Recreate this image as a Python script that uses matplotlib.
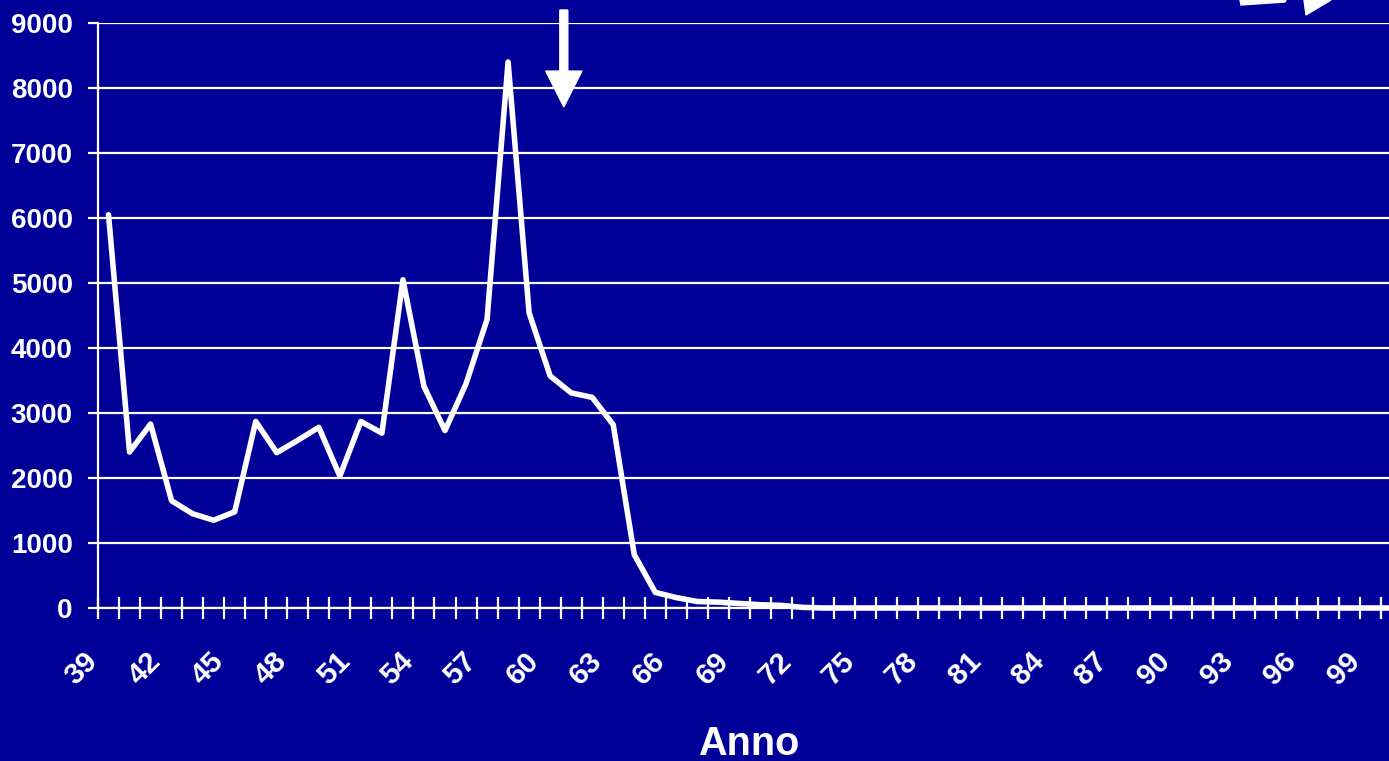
import numpy as np
import matplotlib
matplotlib.use("Agg")
import matplotlib.pyplot as plt
from matplotlib.patches import Polygon
from matplotlib.transforms import ScaledTranslation

plt.rcParams['font.family'] = ['Liberation Sans', 'DejaVu Sans']
plt.rcParams['font.weight'] = 'bold'

# anni 1939 - 2001
anni = list(range(39, 102))
valori = [6050, 2400, 2830, 1650, 1450, 1350, 1480, 2870, 2390, 2580,
          2780, 2030, 2870, 2690, 5050, 3410, 2730, 3450, 4440, 8400,
          4540, 3570, 3310, 3240, 2820, 820, 240, 160, 100, 90,
          70, 50, 40, 10] + [0] * 29
etichette = ['%02d' % (a % 100) for a in anni]

blu = '#000099'
bianco = 'white'

fig = plt.figure(figsize=(13.89, 7.61), dpi=100, facecolor=blu)
# l'asse continua oltre il bordo destro della figura
ax = fig.add_axes([98 / 1389, 153 / 761, 63 * 21.03 / 1389, 585 / 761])
ax.set_facecolor(blu)

x = np.arange(len(anni))
ax.plot(x, valori, color=bianco, lw=4, solid_joinstyle='round',
        solid_capstyle='round', zorder=3, clip_on=False)

ax.set_xlim(-0.5, len(anni) - 0.5)
ax.set_ylim(0, 9000)
ax.set_yticks(np.arange(0, 9001, 1000))
ax.grid(axis='y', color=bianco, lw=1.6)
ax.set_axisbelow(True)

for s in ['top', 'right']:
    ax.spines[s].set_visible(False)
for s in ['left', 'bottom']:
    ax.spines[s].set_color(bianco)
    ax.spines[s].set_linewidth(1.6)

ax.tick_params(axis='y', colors=bianco, length=7.2, width=1.6, pad=11,
               labelsize=20)
for t in ax.get_yticklabels():
    t.set_fontweight('bold')

# tacche ai confini delle categorie, etichette ogni 3 anni
ax.set_xticks(np.arange(-0.5, len(anni), 1), minor=True)
ax.set_xticks(x[::3])
ax.set_xticklabels(etichette[::3], rotation=45, ha='right', va='center',
                   rotation_mode='anchor', fontsize=21.5, fontweight='bold',
                   color=bianco)
ax.tick_params(axis='x', which='major', length=0, pad=35)
ax.tick_params(axis='x', which='minor', direction='inout', length=15.8,
               width=1.6, color=bianco)
sposta = ScaledTranslation(-0.15, 0, fig.dpi_scale_trans)
for t in ax.get_xticklabels():
    t.set_transform(t.get_transform() + sposta)

fig.text(749 / 1389, 1 - 755 / 761, 'Anno', ha='center', va='baseline',
         fontsize=28.5, fontweight='bold', color=bianco)

# freccia verso il 1960
xf = 21.65
freccia = Polygon([(xf - 0.19, 9200), (xf + 0.19, 9200), (xf + 0.19, 8260),
                   (xf + 0.86, 8260), (xf, 7710), (xf - 0.86, 8260),
                   (xf - 0.19, 8260)],
                  closed=True, color=bianco, clip_on=False, zorder=4)
ax.add_patch(freccia)

# frammenti di frecce in alto a destra
def px(pts):
    return [(a / 1389, 1 - b / 761) for a, b in pts]

fig.patches.append(Polygon(px([(1240, 0), (1286, 0), (1285, 2), (1241, 5)]),
                           closed=True, color=bianco,
                           transform=fig.transFigure, figure=fig))
fig.patches.append(Polygon(px([(1304, 0), (1331, 0), (1306, 15)]),
                           closed=True, color=bianco,
                           transform=fig.transFigure, figure=fig))

fig.savefig('out.png', dpi=100, facecolor=blu)
